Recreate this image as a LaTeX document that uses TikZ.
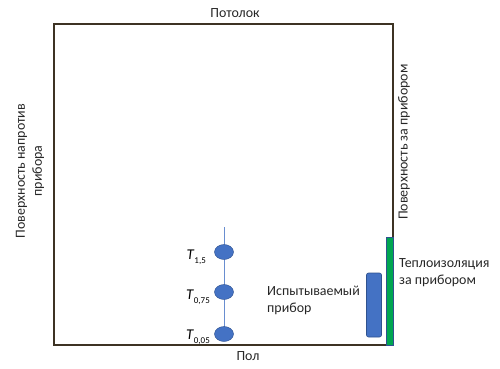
\documentclass[tikz,border=0pt]{standalone}
\usepackage{fontspec}
\setmainfont{Carlito}
\usetikzlibrary{shapes.geometric}
\begin{document}
\begin{tikzpicture}[x=1bp,y=-1bp,
  lbl/.style={font=\fontsize{14}{17}\selectfont, text=black!85, inner sep=0pt, align=center},
  sensor/.style={ellipse, draw=sensoredge, fill=sensorblue, minimum width=19bp, minimum height=15bp, inner sep=0pt},
  tlbl/.style={font=\fontsize{15}{17}\selectfont, inner sep=0pt, anchor=base east}
]
\definecolor{wall}{HTML}{3D3324}
\definecolor{sensorblue}{HTML}{4472C4}
\definecolor{sensoredge}{HTML}{2F528F}
\definecolor{insul}{HTML}{00A651}
\newcommand{\tsub}[1]{\textit{T}\raisebox{-0.6ex}{\fontsize{9}{10}\selectfont #1}}
\useasboundingbox (0,0) rectangle (500,368);
% room
\draw[wall, line width=1.3bp] (54,24) rectangle (393,345);
% insulation
\node[draw=sensoredge, fill=insul, minimum width=7bp, minimum height=108bp, inner sep=0pt, line width=0.6bp] (ins) at (389.5,291) {};
% device
\node[draw=sensoredge, fill=sensorblue, rounded corners=2bp, minimum width=15bp, minimum height=64bp, inner sep=0pt, line width=0.6bp] (dev) at (374,305) {};
% sensor pole
\coordinate (top) at (224,227);
\coordinate (bot) at (224,340);
\draw[sensorblue!80, line width=1bp] (top) -- (bot);
\node[sensor] (s1) at (224,252) {};
\node[sensor] (s2) at (224,292) {};
\node[sensor] (s3) at (224,334) {};
\node[tlbl] (t1) at (206,259) {\tsub{1,5}};
\node[tlbl] (t2) at (210,299) {\tsub{0,75}};
\node[tlbl] (t3) at (210,339) {\tsub{0,05}};
% labels
\node[lbl] (ceil) at (235,13) {Потолок};
\node[lbl] (floor) at (248,356) {Пол};
\node[lbl, rotate=90] (left) at (30,171) {Поверхность напротив\\прибора};
\node[lbl, rotate=90] (right) at (404,142) {Поверхность за прибором};
\node[lbl, align=left, anchor=west] (insl) at (399,273) {Теплоизоляция\\за прибором};
\node[lbl, align=left, anchor=west] (devl) at (267,300) {Испытываемый\\прибор};
\end{tikzpicture}
\end{document}
